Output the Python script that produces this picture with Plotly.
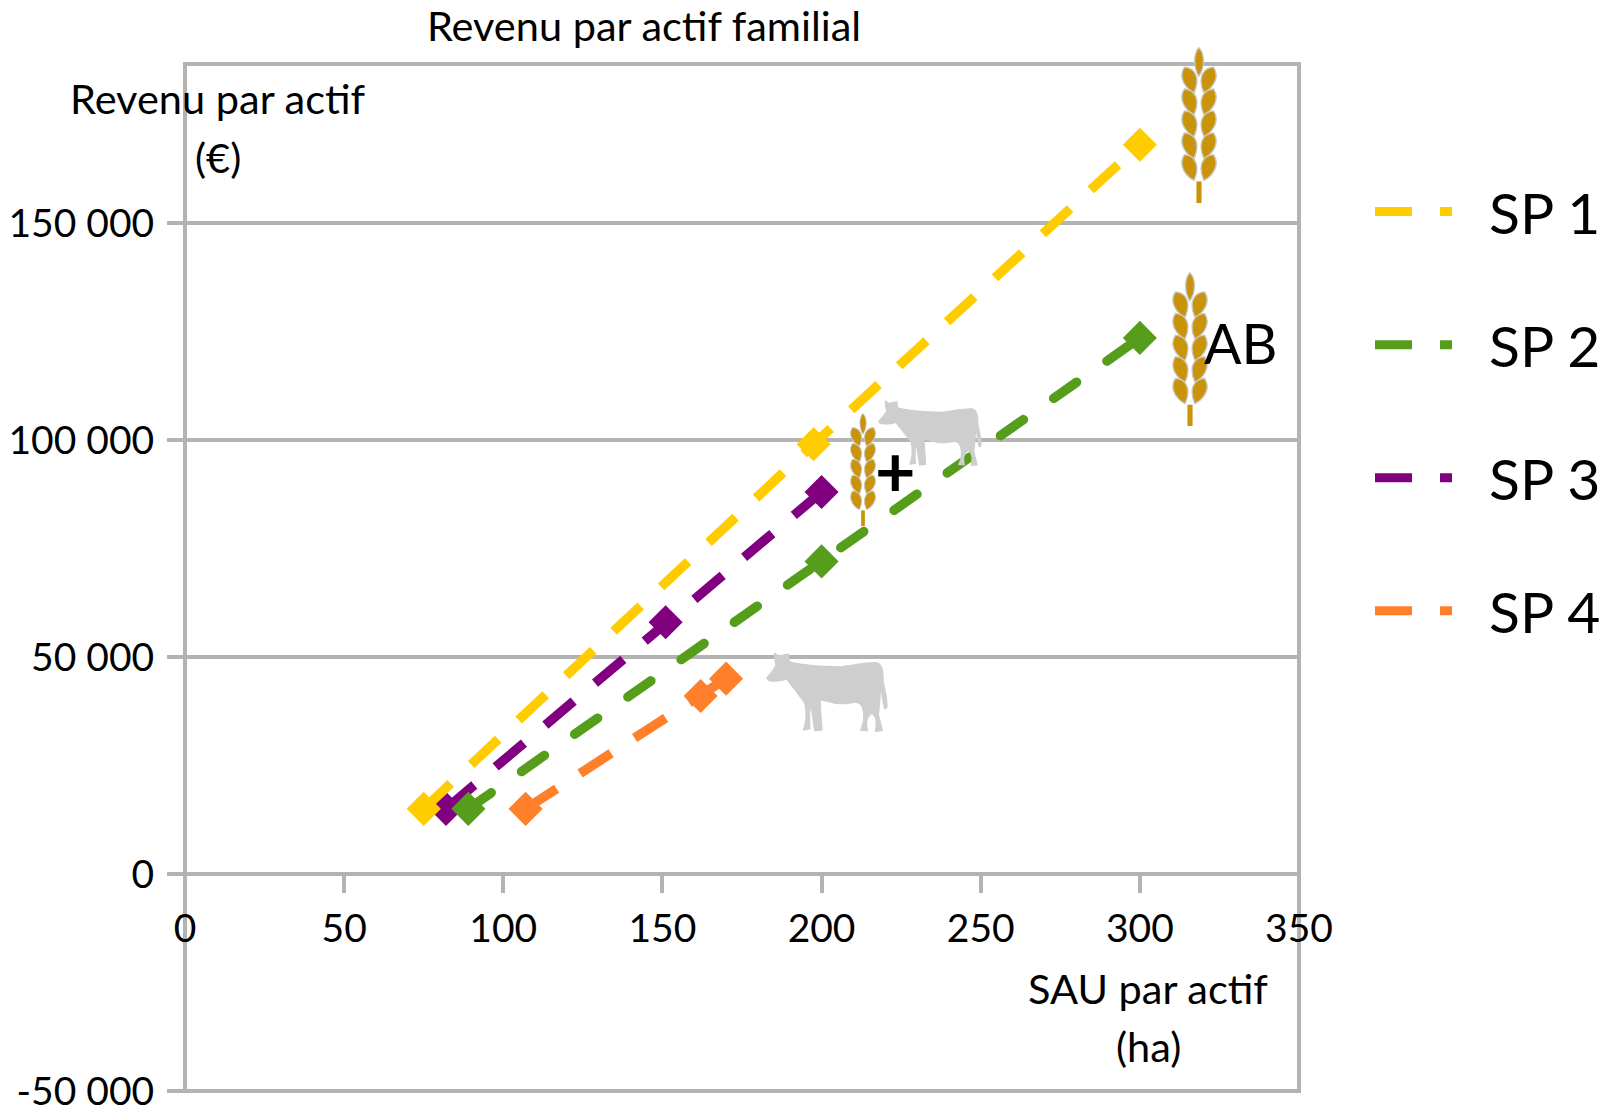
import base64, math
import plotly.graph_objects as go

names = ["SP 1", "SP 2", "SP 3", "SP 4"]
colors = ["#FFCC00", "#579D1C", "#800080", "#FF7F2A"]
sp1_x = [75, 197.5, 300]
sp1_y = [15000, 99000, 168000]
sp2_x = [89, 200, 300]
sp2_y = [15000, 72000, 123500]
sp3_x = [82, 151, 200]
sp3_y = [15000, 58000, 88000]
sp4_x = [107, 162, 170]
sp4_y = [15000, 41000, 45000]
x_ticks = [0, 50, 100, 150, 200, 250, 300, 350]
y_ticks = [-50000, 0, 50000, 100000, 150000]
y_labels = ["-50 000", "0", "50 000", "100 000", "150 000"]

W, H = 1608, 1112
L, R, T, B = 185, 1299, 64, 1091
FONT = "Lato, Carlito, Calibri, sans-serif"
TICK = 39
TITLE = 41.5
GRID = "#B3B3B3"

def px(x): return (x - L) / (R - L)
def py(y): return (B - y) / (B - T)
def uri(svg): return "data:image/svg+xml;base64," + base64.b64encode(svg.encode()).decode()

def wheat_svg():
    left = "M-12,-38 C18,-32 32,-2 8,42 C-14,28 -36,-8 -12,-38 Z"
    right = "M12,-38 C36,-8 14,28 -8,42 C-32,-2 -18,-32 12,-38 Z"
    parts = []
    for i in range(5):
        yy = 97 + 66 * i
        parts.append(f'<path d="{left}" transform="translate(26,{yy}) rotate(-6)"/>')
        parts.append(f'<path d="{right}" transform="translate(79,{yy}) rotate(6)"/>')
    parts.append('<path d="M52,2 C70,20 70,62 52,88 C36,62 36,20 52,2 Z"/>')
    parts.append('<path d="M45,405 L60,405 L60,470 L45,470 Z" stroke="none"/>')
    return ('<svg xmlns="http://www.w3.org/2000/svg" width="105" height="470" viewBox="0 0 105 470" '
            'preserveAspectRatio="none"><g fill="#C9930A" stroke="#C8C8C8" stroke-width="4">'
            + "".join(parts) + "</g></svg>")

def cow_svg():
    d = ("M25,0 L38,10 L68,4 L72,27 C110,38 170,40 225,42 C265,38 300,28 335,30 C352,36 355,60 354,85 "
         "C358,110 368,135 365,165 L356,170 C350,150 348,130 346,115 C345,140 342,165 340,185 "
         "C345,205 350,220 352,234 L327,236 C330,215 332,200 325,190 C318,180 314,185 310,192 "
         "C300,205 306,225 307,234 L282,232 C290,215 296,195 290,170 C286,155 280,152 268,150 "
         "C240,156 215,156 195,150 L165,143 C165,175 170,205 170,232 L145,234 C140,205 138,180 134,165 "
         "C132,190 134,215 134,228 L110,232 C118,210 122,180 115,152 C100,130 85,112 62,82 "
         "C45,88 20,90 6,85 L0,76 C12,62 24,50 28,38 C26,25 22,12 25,0 Z")
    return ('<svg xmlns="http://www.w3.org/2000/svg" width="367" height="236" viewBox="0 0 367 236" '
            f'preserveAspectRatio="none"><path d="{d}" fill="#CECECE"/></svg>')

fig = go.Figure()
series = {"SP 1": (sp1_x, sp1_y), "SP 2": (sp2_x, sp2_y), "SP 3": (sp3_x, sp3_y), "SP 4": (sp4_x, sp4_y)}
for n in ["SP 3", "SP 4", "SP 2", "SP 1"]:
    c = colors[names.index(n)]
    xs, ys = series[n]
    dash = "28px,37px" if n == "SP 2" else "37px,28px"
    fig.add_trace(go.Scatter(x=xs, y=ys, mode="lines+markers", name=n, showlegend=False, cliponaxis=False,
                             line=dict(color=c, width=9.5, dash=dash),
                             marker=dict(symbol="diamond", size=23, color=c, line=dict(color=c, width=3))))
for n, c in zip(names, colors):
    fig.add_trace(go.Scatter(x=[None], y=[None], mode="lines", name=n, legendgroup=n,
                             line=dict(color=c, width=9, dash="37px,28px,12px,400px")))

images = []
for (x0, x1, y0, y1, src) in [
    (1181, 1217, 47, 203, wheat_svg()),
    (1172, 1208, 272, 426, wheat_svg()),
    (850, 876, 413, 526, wheat_svg()),
    (878, 982, 400, 466, cow_svg()),
    (766, 888, 652, 732, cow_svg()),
]:
    images.append(dict(source=uri(src), xref="paper", yref="paper", x=px(x0), y=py(y0),
                       sizex=(x1 - x0) / (R - L), sizey=(y1 - y0) / (B - T), sizing="stretch",
                       xanchor="left", yanchor="top", layer="above"))

def label(text, cx, cy, size=TITLE):
    return dict(text=text, xref="paper", yref="paper", x=px(cx), y=py(cy), showarrow=False,
                xanchor="center", yanchor="middle", font=dict(family=FONT, size=size, color="black"))

annotations = [
    label("Revenu par actif", 218, 98),
    label("(€)", 218, 157),
    label("SAU par actif", 1148, 988),
    label("(ha)", 1148, 1046),
    label("AB", 1240, 342, 55.5),
    label("<b>+</b>", 895, 470, 70),
]

axis_font = dict(family=FONT, size=TICK, color="black")
fig.update_layout(
    width=W, height=H, autosize=False, paper_bgcolor="white", plot_bgcolor="white",
    margin=dict(l=L, r=W - R, t=T, b=H - B, autoexpand=False),
    title=dict(text="Revenu par actif familial", x=644 / W, xanchor="center", y=1 - 26 / H, yanchor="middle",
               font=dict(family=FONT, size=TITLE, color="black")),
    xaxis=dict(range=[0, 350], tickvals=x_ticks, anchor="free", position=50000 / 236600, showgrid=False,
               showline=True, linecolor=GRID, linewidth=4, ticks="outside", ticklen=17, tickwidth=4, tickcolor=GRID,
               zeroline=False, tickfont=axis_font, ticklabelstandoff=2),
    yaxis=dict(range=[-50000, 186600], tickvals=y_ticks, ticktext=y_labels, showgrid=True, gridcolor=GRID, gridwidth=4,
               showline=False, ticks="outside", ticklen=17, tickwidth=4, ticklabeloverflow="allow",
               tickcolor=GRID, zeroline=False, tickfont=axis_font, ticklabelstandoff=5),
    shapes=[dict(type="rect", xref="x domain", yref="y domain", x0=0, x1=1, y0=0, y1=1,
                 line=dict(color=GRID, width=4), layer="below")],
    legend=dict(x=px(1370), y=py(168), xanchor="left", yanchor="top", itemwidth=109, tracegroupgap=56,
                font=dict(family=FONT, size=57, color="black"), bgcolor="rgba(0,0,0,0)"),
    images=images, annotations=annotations,
)

post = """
document.body.style.margin='0';
document.querySelectorAll('.scatterlayer .trace').forEach(function(t){
  var p=t.querySelector('path.js-line');
  if(p && p.style.stroke && (p.style.stroke.indexOf('87, 157, 28')>=0)){p.style.strokeLinecap='round';}
});
"""
fig.write_html("out.html", post_script=post, config={"displayModeBar": False})
